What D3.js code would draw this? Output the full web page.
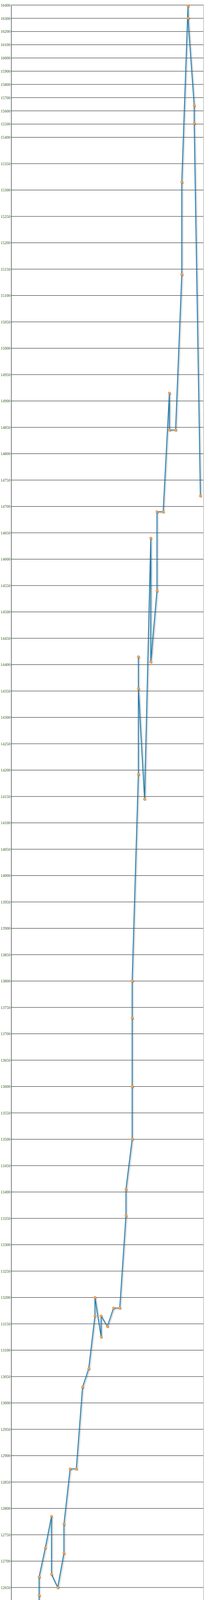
<!DOCTYPE html>
<html>
<head>
<meta charset="utf-8">
<script src="https://cdn.jsdelivr.net/npm/d3@7"></script>
<style>
  body { margin: 0; background: #fff; }
  .tick text { font-family: "Liberation Serif", serif; fill: #2f5a1f; }
</style>
</head>
<body>
<div id="chart"></div>
<script>
// each reading: day of month and price (several updates on some days)
const days   = [1, 2, 3, 4, 5, 5, 5, 6, 7, 7, 8, 9, 9, 10, 11, 12, 13, 14, 14, 15, 15, 16, 17, 18,
                19, 19, 20, 20, 20, 20, 21, 21, 21, 22, 23, 23, 24, 24, 25, 26, 26, 27, 28, 28, 29, 29, 30, 30, 31];
const prices = [12380, 12485, 12450, 12450, 12595, 12635, 12670, 12725, 12785, 12675, 12650, 12715, 12770, 12875, 12875,
                13030, 13065, 13165, 13200, 13125, 13165, 13145, 13180, 13180,
                13355, 13405, 13500, 13600, 13730, 13800, 14192, 14415, 14355, 14145, 14640, 14405, 14540, 14690, 14690,
                14915, 14845, 14845, 15140, 15315, 16395, 16300, 15640, 15505, 14720];
const dateLabels = d3.range(1, 32).map(String);
// gridlines: every 50 up to 15400, then every 100
const yTicks = d3.range(12350, 15400, 50).concat(d3.range(15400, 16401, 100));

const width = 550, height = 4510;
const plot = {left: 28.5, right: 520.5, top: 13, bottom: 4469};

const svg = d3.select('#chart').append('svg').attr('width', width).attr('height', height);

const defs = svg.append('defs');
const f = defs.append('filter').attr('id', 'shadow').attr('x', '-20%').attr('y', '-20%').attr('width', '140%').attr('height', '140%');
f.append('feDropShadow').attr('dx', 2).attr('dy', 2).attr('stdDeviation', 1.5).attr('flood-color', '#000').attr('flood-opacity', 0.35);

const x = d3.scaleBand().domain(dateLabels).range([plot.left, plot.right]);
// the chart compresses the top part of the axis
const y = d3.scaleLinear().domain([12350, 15400, 16400]).range([plot.bottom, 351.5, plot.top]);

// watermark
svg.append('text')
    .attr('x', 40).attr('y', 4312)
    .attr('textLength', 467)
    .style('font-family', '"Liberation Serif", serif')
    .style('font-variant', 'small-caps')
    .style('font-size', '44px')
    .style('fill', '#e8e8e8')
    .text('www.KeralaGold.com');

// gridlines
svg.append('g').selectAll('line').data(yTicks).join('line')
    .attr('x1', plot.left).attr('x2', plot.right)
    .attr('y1', d => y(d)).attr('y2', d => y(d))
    .attr('stroke', '#000').attr('stroke-width', 0.9);

svg.append('line').attr('x1', plot.right).attr('x2', plot.right).attr('y1', plot.top).attr('y2', plot.bottom)
    .attr('stroke', '#999');

const yAxis = d3.axisLeft(y).tickValues(yTicks).tickSize(0).tickPadding(2).tickFormat(d3.format('d'));
const gy = svg.append('g').attr('transform', 'translate(' + plot.left + ',0)').call(yAxis);
gy.select('.domain').attr('stroke', '#000');
gy.selectAll('text').style('font-size', '10px');

const xAxis = d3.axisBottom(x).tickSize(0).tickPadding(0);
const gx = svg.append('g').attr('transform', 'translate(0,' + plot.bottom + ')').call(xAxis);
gx.select('.domain').attr('stroke', '#000');
gx.selectAll('.tick text')
    .attr('transform', 'rotate(-90)')
    .attr('x', -4).attr('y', 0).attr('dy', '0.35em')
    .style('text-anchor', 'end')
    .style('font-size', '11px');
// small ticks on band boundaries
gx.append('g').selectAll('line').data(dateLabels.concat(['end'])).join('line')
    .attr('x1', (d, i) => plot.left + i * x.bandwidth()).attr('x2', (d, i) => plot.left + i * x.bandwidth())
    .attr('y1', 0).attr('y2', 5).attr('stroke', '#000');

svg.append('text').attr('x', 263).attr('y', 4505).attr('text-anchor', 'middle')
    .style('font-family', '"DejaVu Sans", sans-serif').style('font-weight', 'bold')
    .style('font-size', '9px').style('fill', '#244a18').text('Date');

// y-axis title
const yt = svg.append('text').attr('transform', 'translate(12,4457) rotate(-90)')
    .style('font-family', '"DejaVu Sans", sans-serif').style('font-weight', 'bold')
    .style('font-size', '9px').style('fill', '#d6d6d6');
yt.append('tspan').attr('x', 0).attr('dy', 0).text('Price in');
yt.append('tspan').attr('x', 0).attr('dy', 11).text('Rupees');

// caption
const cap = svg.append('g').style('font-family', '"DejaVu Sans", sans-serif').style('font-weight', 'bold');
cap.append('text').attr('x', 333).attr('y', 4423).style('font-size', '11px').style('fill', '#9ba59b').text('Price of 1 Gram Gold');
cap.append('text').attr('x', 333).attr('y', 4437).style('font-size', '11px').style('fill', '#9ba59b').text('(22 Carat) in Kerala');
cap.append('text').attr('x', 332).attr('y', 4457).attr('textLength', 154)
    .style('font-size', '17px').style('fill', '#f7941d').style('stroke', '#f9c08a').style('stroke-width', 0.6)
    .text('JANUARY 2026');
cap.append('text').attr('x', 412).attr('y', 4503).attr('textLength', 95)
    .style('font-size', '8px').style('fill', '#f3b185').text('www.KeralaGold.com');

// series
const points = days.map((d, i) => ({ day: String(d), price: prices[i] }));
const line = d3.line()
    .x(d => x(d.day) + x.bandwidth() / 2)
    .y(d => y(d.price));

svg.append('path').datum(points)
    .attr('d', line)
    .attr('fill', 'none')
    .attr('stroke', '#1f7cb0')
    .attr('stroke-width', 2.2)
    .attr('stroke-linejoin', 'round')
    .attr('filter', 'url(#shadow)');

svg.append('g').selectAll('circle').data(points).join('circle')
    .attr('cx', d => x(d.day) + x.bandwidth() / 2)
    .attr('cy', d => y(d.price))
    .attr('r', 3)
    .attr('fill', '#fbab57')
    .attr('stroke', '#e57a1a')
    .attr('stroke-width', 0.8)
    .attr('filter', 'url(#shadow)');
</script>
</body>
</html>
